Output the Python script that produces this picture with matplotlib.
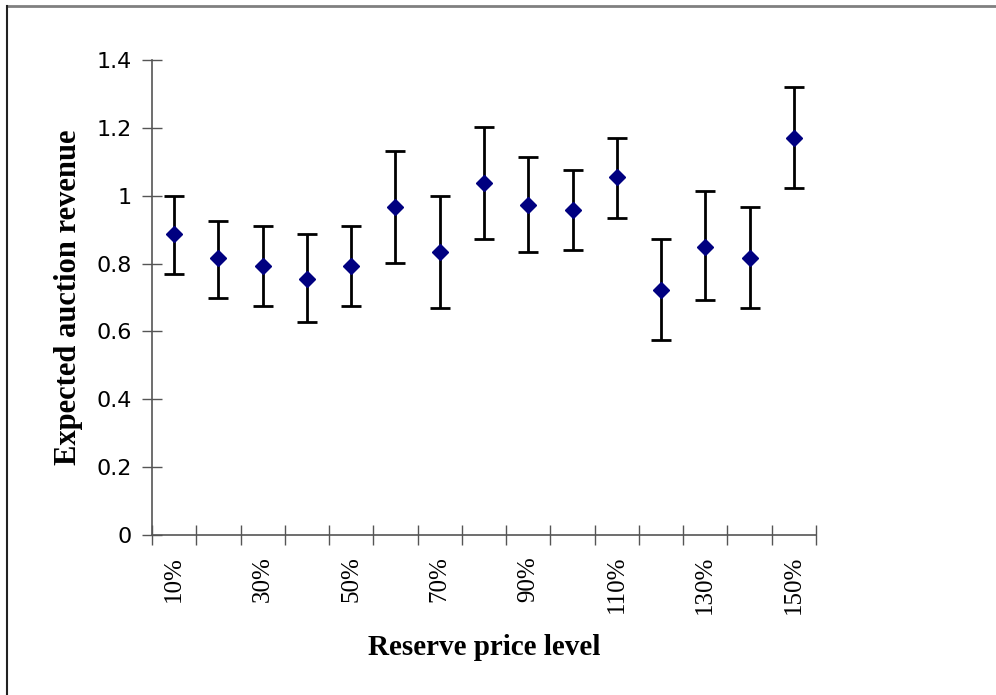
import matplotlib
matplotlib.use('Agg')
import matplotlib.pyplot as plt
from matplotlib.lines import Line2D
from matplotlib.ticker import FixedLocator, FormatStrFormatter

# reserve price levels 10% .. 150%
levels = ['10%', '20%', '30%', '40%', '50%', '60%', '70%', '80%',
          '90%', '100%', '110%', '120%', '130%', '140%', '150%']
revenue = [0.888, 0.816, 0.793, 0.754, 0.793, 0.966, 0.833, 1.036,
           0.973, 0.959, 1.054, 0.723, 0.848, 0.816, 1.171]
upper = [0.998, 0.926, 0.912, 0.888, 0.912, 1.132, 0.998, 1.202,
         1.115, 1.077, 1.170, 0.871, 1.014, 0.967, 1.319]
lower = [0.769, 0.699, 0.676, 0.628, 0.676, 0.802, 0.668, 0.872,
         0.833, 0.841, 0.935, 0.574, 0.693, 0.669, 1.022]
yticks = [0, 0.2, 0.4, 0.6, 0.8, 1.0, 1.2, 1.4]

x = list(range(len(levels)))
err_lo = [r - l for r, l in zip(revenue, lower)]
err_hi = [u - r for r, u in zip(revenue, upper)]

fig = plt.figure(figsize=(9.96, 6.95), dpi=100)
ax = fig.add_axes([0.1526, 0.2302, 0.6667, 0.6835])

ax.errorbar(x, revenue, yerr=[err_lo, err_hi], fmt='D', color='#000080',
            ms=8.5, ecolor='black', elinewidth=2, capsize=7, capthick=2)

ax.set_xlim(-0.5, len(levels) - 0.5)
ax.set_ylim(0, 1.4)
ax.set_yticks(yticks)
ax.yaxis.set_major_formatter(FormatStrFormatter('%g'))

# tick marks at category boundaries, labels at every other centre
ax.xaxis.set_major_locator(FixedLocator([i - 0.5 for i in range(len(levels) + 1)]))
ax.xaxis.set_minor_locator(FixedLocator(x[::2]))
ax.set_xticklabels([''] * (len(levels) + 1))
ax.set_xticklabels(levels[::2], minor=True, rotation=90,
                   family='Liberation Serif', fontsize=18)
ax.tick_params(axis='x', which='minor', length=0, pad=15)
ax.tick_params(axis='x', which='major', direction='inout', length=15,
               width=1, color='#555555')
ax.tick_params(axis='y', direction='inout', length=15, width=1,
               color='#555555', labelsize=16, pad=7)
for t in ax.get_yticklabels():
    t.set_family('DejaVu Sans')

for s in ['top', 'right']:
    ax.spines[s].set_visible(False)
for s in ['left', 'bottom']:
    ax.spines[s].set_color('#555555')
    ax.spines[s].set_linewidth(1.2)

ax.set_xlabel('Reserve price level', family='Liberation Serif',
              fontweight='bold', fontsize=21, labelpad=14)
ax.set_ylabel('Expected auction revenue', family='Liberation Serif',
              fontweight='bold', fontsize=22, labelpad=10)

# chart border (top and left visible)
fig.add_artist(Line2D([7 / 996, 1], [1 - 6 / 695, 1 - 6 / 695],
                      transform=fig.transFigure, color='#808080', lw=2))
fig.add_artist(Line2D([7 / 996, 7 / 996], [0, 1 - 6 / 695],
                      transform=fig.transFigure, color='#222222', lw=1.5))

fig.savefig('out.png', dpi=100)
